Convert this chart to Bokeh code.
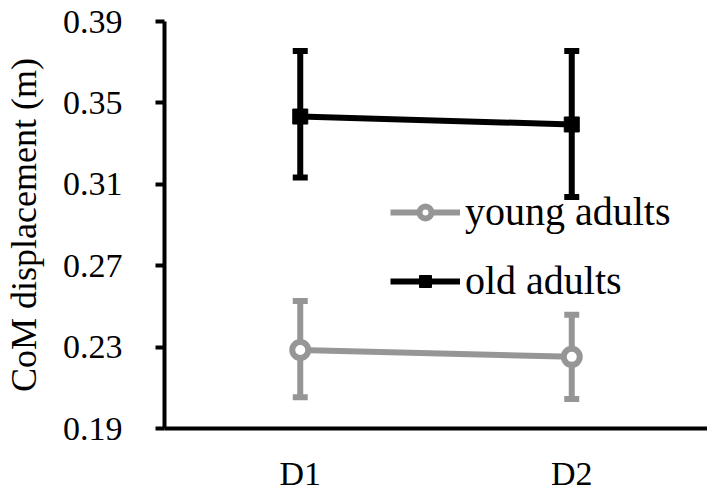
from bokeh.plotting import figure
from bokeh.models import (ColumnDataSource, FactorRange, Range1d, FixedTicker,
                          PrintfTickFormatter, Whisker, TeeHead, Legend, LegendItem)
from bokeh.embed import file_html
from bokeh.resources import INLINE

# ---- data ----
days = ["D1", "D2"]
young_mean = [0.2286, 0.2252]
young_low = [0.2054, 0.2045]
young_high = [0.2527, 0.2459]
old_mean = [0.3433, 0.3394]
old_low = [0.3134, 0.3037]
old_high = [0.3755, 0.3755]
y_ticks = [0.19, 0.23, 0.27, 0.31, 0.35, 0.39]

GREY = "#969696"
FONT = "Liberation Serif"

p = figure(width=707, height=496, x_range=FactorRange(*days),
           y_range=Range1d(0.19, 0.39), output_backend="svg",
           toolbar_location=None, min_border_left=164, min_border_top=21,
           min_border_right=0, min_border_bottom=68)
p.outline_line_color = None
p.grid.grid_line_color = None
p.background_fill_color = None

old_src = ColumnDataSource(dict(x=days, y=old_mean, lo=old_low, hi=old_high))
young_src = ColumnDataSource(dict(x=days, y=young_mean, lo=young_low, hi=young_high))

def add_series(src, color, marker, size, lw_marker, fill):
    w = Whisker(base="x", upper="hi", lower="lo", source=src,
                line_color=color, line_width=6,
                upper_head=TeeHead(size=15, line_color=color, line_width=6),
                lower_head=TeeHead(size=15, line_color=color, line_width=6))
    p.add_layout(w)
    ln = p.line("x", "y", source=src, line_color=color, line_width=6)
    sc = p.scatter("x", "y", source=src, marker=marker, size=size,
                   line_color=color, line_width=lw_marker, fill_color=fill)
    return [ln, sc]

old_r = add_series(old_src, "black", "square", 15, 1, "black")
young_r = add_series(young_src, GREY, "circle", 16, 6, "white")

legend = Legend(items=[LegendItem(label="young adults", renderers=young_r),
                       LegendItem(label="old adults", renderers=old_r)],
                location=(226, 124), orientation="vertical",
                label_text_font=FONT, label_text_font_size="40px",
                label_text_color="black", glyph_width=70, glyph_height=30,
                label_standoff=5, spacing=22, padding=0, margin=0,
                border_line_color=None, background_fill_alpha=0)
p.add_layout(legend, "center")

# y axis
ya = p.yaxis[0]
ya.ticker = FixedTicker(ticks=y_ticks)
ya.formatter = PrintfTickFormatter(format="%.2f")
ya.axis_line_width = 4
ya.axis_line_color = "black"
ya.major_tick_line_width = 4
ya.major_tick_out = 9
ya.major_tick_in = 0
ya.minor_tick_line_color = None
ya.major_label_text_font = FONT
ya.major_label_text_font_size = "34px"
ya.major_label_text_color = "black"
ya.major_label_standoff = 33
ya.axis_label = "CoM displacement (m)"
ya.axis_label_text_font = FONT
ya.axis_label_text_font_size = "36px"
ya.axis_label_text_font_style = "normal"
ya.axis_label_text_color = "black"
ya.axis_label_standoff = 16

# x axis
xa = p.xaxis[0]
xa.axis_line_width = 4
xa.axis_line_color = "black"
xa.major_tick_line_color = None
xa.minor_tick_line_color = None
xa.major_label_text_font = FONT
xa.major_label_text_font_size = "34px"
xa.major_label_text_color = "black"
xa.major_label_standoff = 20

open("out.html", "w").write(file_html(p, INLINE))
